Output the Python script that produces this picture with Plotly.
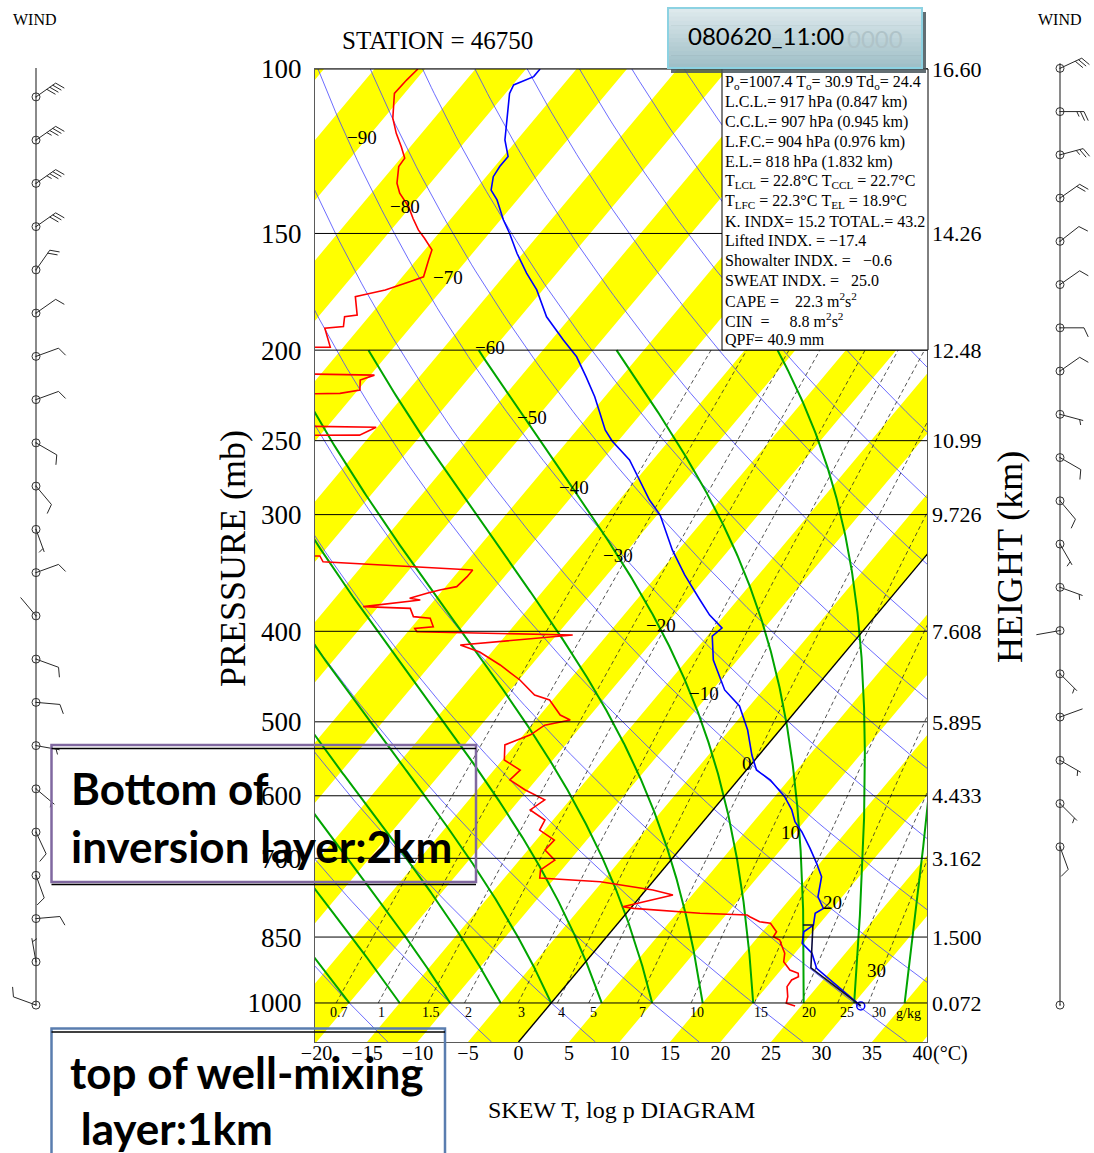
import numpy as np
import plotly.graph_objects as go

# ---------------------------------------------------------------- figure geometry
W, H = 1094, 1153
PL, PR, PT, PB = 315, 927, 69, 1042          # plot-area edges in pixels
XMIN, XMAX = -20.15, 40.45                   # bottom-edge temperature range (deg C)
P_TOP, P_BOT = 100.0, 1101.0                 # pressure range (hPa)
K_SKEW = 77.5                                # skew: deg C shift per decade of pressure
SERIF = "Liberation Serif"
SANS = "Lato"

# ---------------------------------------------------------------- data
pressure_levels = [100, 150, 200, 250, 300, 400, 500, 600, 700, 850, 1000]
height_labels = ["16.60", "14.26", "12.48", "10.99", "9.726", "7.608",
                 "5.895", "4.433", "3.162", "1.500", "0.072"]
temp_ticks = [-20, -15, -10, -5, 0, 5, 10, 15, 20, 25, 30, 35, 40]

isotherm_label_t = [-90, -80, -70, -60, -50, -40, -30, -20, -10, 0, 10, 20, 30]
isotherm_label_p = [118.5, 140.5, 167.0, 198.5, 235.9, 280.6, 332.2,
                    393.9, 466.8, 553.8, 656.6, 781.1, 922.1]

mixing_ratios = [0.7, 1, 1.5, 2, 3, 4, 5, 7, 10, 15, 20, 25, 30]
mixing_labels = ["0.7", "1", "1.5", "2", "3", "4", "5", "7", "10", "15", "20", "25", "30"]
moist_start_t = [-20, -15, -10, -5, 0, 5, 10, 15, 20, 25, 30, 35]
dry_theta_c = [-20, -10, 0, 10, 20, 30, 40, 50, 60, 70, 80, 90, 100,
               110, 120, 130, 140, 150, 160, 170, 180]

# temperature sounding (hPa, deg C)
temp_p = [1007.4, 918.0, 884.7, 863.2, 838.9, 825.2, 801.7, 791.9, 769.6, 732.6,
          708.8, 683.0, 655.6, 639.7, 621.3, 601.4, 577.1, 563.2, 542.7, 510.2,
          480.9, 462.2, 429.4, 404.7, 396.8, 384.3, 370.3, 348.1, 327.3, 300.3,
          289.4, 262.2, 250.2, 243.5, 233.7, 224.3, 213.6, 203.3, 195.1, 184.2,
          172.4, 165.4, 157.5, 149.9, 145.1, 138.1, 134.8, 130.4, 127.2, 124.1,
          119.1, 110.6, 106.2, 104.0, 101.9, 100.0]
temp_c = [30.9, 23.4, 21.7, 19.9, 19.1, 19.5, 18.7, 19.1, 17.6, 16.3,
          14.7, 12.8, 10.6, 9.1, 7.8, 6.0, 3.2, 1.0, -0.7, -3.2,
          -6.0, -8.8, -12.4, -14.5, -14.2, -16.5, -18.7, -22.3, -25.6, -29.7,
          -32.0, -37.3, -40.6, -42.2, -44.1, -46.0, -48.5, -51.1, -53.8, -57.4,
          -60.6, -63.0, -65.6, -68.0, -69.7, -72.0, -73.4, -74.3, -74.5, -74.5,
          -76.2, -78.4, -79.6, -79.9, -78.6, -78.6]

# dew-point sounding (hPa, deg C); -100 marks values far below the chart
dew_p = [1007.4, 1000.7, 984.6, 960.6, 944.9, 937.2, 929.5, 922.0, 903.3, 884.7,
         870.4, 856.2, 849.3, 838.9, 821.7, 818.5, 808.4, 805.1, 801.7, 791.9,
         788.8, 772.6, 766.4, 757.0, 741.6, 734.9, 720.3, 703.1, 685.9, 669.3,
         652.9, 637.0, 621.3, 606.0, 591.2, 577.1, 563.1, 549.4, 529.3, 516.3,
         504.2, 497.7, 491.7, 473.8, 468.0, 451.0, 434.6, 421.0, 413.8, 403.7,
         400.4, 397.1, 395.5, 387.4, 385.8, 378.0, 376.4, 370.3, 368.7, 364.2,
         361.3, 358.3, 349.6, 343.9, 337.0, 332.2, 330.0, 250.0, 247.6, 246.6,
         241.9, 238.6, 224.3, 222.5, 220.7, 215.3, 212.7, 210.0, 200.0, 198.5,
         189.5, 188.7, 184.2, 183.4, 175.3, 174.6, 172.4, 168.9, 166.9, 160.1,
         156.2, 151.8, 148.7, 144.5, 140.4, 135.8, 132.5, 127.2, 124.6, 121.1,
         117.2, 112.9, 106.2, 102.7, 100.0]
dew_c = [24.4, 23.3, 22.9, 22.0, 21.9, 22.3, 22.0, 20.9, 19.6, 19.0,
         18.2, 17.4, 16.5, 16.4, 15.1, 13.9, 12.5, 12.1, 7.3, 0.3,
         -0.9, 2.1, 3.1, 0.7, -5.2, -11.5, -12.1, -11.5, -13.3, -13.2,
         -15.5, -15.8, -18.1, -17.5, -20.3, -22.6, -22.4, -24.8, -26.0, -24.3,
         -23.7, -21.6, -23.0, -25.3, -27.2, -29.9, -33.1, -36.2, -38.7, -28.4,
         -44.1, -44.6, -42.9, -43.9, -45.7, -46.7, -51.5, -46.4, -47.6, -46.3,
         -45.3, -43.9, -43.7, -43.7, -59.2, -60.0, -100, -100, -100, -66.1,
         -65.1, -100, -100, -71.5, -69.8, -70.6, -69.6, -100, -100, -76.3,
         -78.4, -76.7, -77.4, -76.3, -78.0, -77.4, -75.6, -73.8, -72.9, -73.8,
         -74.3, -76.0, -77.3, -78.8, -80.2, -82.2, -83.3, -84.5, -84.6, -85.9,
         -87.5, -89.1, -91.0, -90.9, -90.7]

# lifted parcel (surface -> LCL -> marker)
parcel_p = [1007.4, 917.0, 825.2, 825.2]
parcel_t = [30.9, 22.8, 19.45, 18.46]

# winds: level index (evenly spaced column), direction (deg), speed (kt)
wind_l_lev = [0, 1, 2, 3, 4, 5, 6, 7, 8, 9, 10, 11, 12, 13, 14, 15, 16, 17, 18, 19, 20, 21]
wind_l_dir = [290, 350, 85, 160, 155, 130, 100, 95, 110, 320, 70, 160, 140, 120, 70, 70,
              55, 35, 55, 55, 55, 55]
wind_l_spd = [10, 5, 10, 10, 10, 5, 5, 10, 10, 2, 10, 5, 10, 10, 10, 10, 10, 20, 30, 35, 35, 40]
wind_r_lev = [0, 3.66, 4.66, 5.66, 6.66, 7.66, 8.66, 9.66, 10.66, 11.66, 12.66, 13.66,
              14.66, 15.66, 16.66, 17.66, 18.66, 19.66, 20.66, 21.66]
wind_r_dir = [0, 160, 135, 120, 70, 135, 260, 110, 150, 140, 120, 105, 55, 90, 55, 52,
              55, 75, 90, 65]
wind_r_spd = [0, 10, 5, 5, 2, 5, 2, 5, 5, 10, 10, 5, 10, 10, 10, 10, 20, 25, 25, 30]

info_lines = [
    "P<sub>o</sub>=1007.4 T<sub>o</sub>= 30.9 Td<sub>o</sub>= 24.4",
    "L.C.L.= 917 hPa (0.847 km)",
    "C.C.L.= 907 hPa (0.945 km)",
    "L.F.C.= 904 hPa (0.976 km)",
    "E.L.= 818 hPa (1.832 km)",
    "T<sub>LCL</sub> = 22.8°C T<sub>CCL</sub> = 22.7°C",
    "T<sub>LFC</sub> = 22.3°C\u00a0T<sub>EL</sub>\u00a0= 18.9°C",
    "K. INDX= 15.2 TOTAL.= 43.2",
    "Lifted INDX. = −17.4",
    "Showalter INDX. =\u00a0\u00a0\u00a0−0.6",
    "SWEAT INDX. =\u00a0\u00a0\u00a025.0",
    "CAPE =\u00a0\u00a0\u00a0\u00a022.3 m<sup>2</sup>s<sup>2</sup>",
    "CIN\u00a0\u00a0=\u00a0\u00a0\u00a0\u00a0\u00a08.8 m<sup>2</sup>s<sup>2</sup>",
    "QPF= 40.9 mm",
]


# ---------------------------------------------------------------- helpers
def skew(t, p):
    return np.asarray(t, float) + K_SKEW * np.log10(P_BOT / np.asarray(p, float))


def fx(x):
    return x / W


def fy(y):
    return 1 - y / H


def td_from_w(w, p):
    p = np.asarray(p, float)
    e = w * p / (622.0 + w)
    L = np.log(e / 6.112)
    return 243.5 * L / (17.67 - L)


def _lapse(T, p):
    Tc = T - 273.15
    es = 6.112 * np.exp(17.67 * Tc / (Tc + 243.5))
    rs = 0.622 * es / (p - es)
    Rd, Cp, Lv = 287.04, 1005.7, 2.501e6
    return (Rd * T + Lv * rs) / (p * (Cp + Lv * Lv * rs * 0.622 / (Rd * T * T)))


def moist_adiabat(t0, p0=1000.0, p1=200.0, dp=2.0):
    ps = np.arange(p0, p1 - 1e-6, -dp)
    T = t0 + 273.15
    out = [T]
    for i in range(len(ps) - 1):
        h = ps[i + 1] - ps[i]
        k1 = _lapse(T, ps[i])
        k2 = _lapse(T + 0.5 * h * k1, ps[i] + 0.5 * h)
        T = T + h * k2
        out.append(T)
    return ps, np.array(out) - 273.15


Y3_MIN, Y3_MAX = -3.42, 23.24
PX_PER_LEVEL = H / (Y3_MAX - Y3_MIN)


def barb(cx, lev, bearing, speed, L=24.0, fl=10.0, sp=3.6):
    xs, ys = [], []
    if speed <= 0:
        return xs, ys
    b = np.radians(bearing)
    ux, uy = np.sin(b), np.cos(b)
    f = np.radians(bearing + 65)
    fxv, fyv = np.sin(f), np.cos(f)
    xs += [cx, cx + L * ux, None]
    ys += [lev, lev + L * uy / PX_PER_LEVEL, None]
    n_full = int(speed // 10)
    half = (speed % 10) >= 5
    pos = L
    for _ in range(n_full):
        bx, by = ux * pos, uy * pos
        xs += [cx + bx, cx + bx + fl * fxv, None]
        ys += [lev + by / PX_PER_LEVEL, lev + (by + fl * fyv) / PX_PER_LEVEL, None]
        pos -= sp
    if half:
        if n_full == 0:
            pos -= sp
        bx, by = ux * pos, uy * pos
        xs += [cx + bx, cx + bx + 0.55 * fl * fxv, None]
        ys += [lev + by / PX_PER_LEVEL, lev + (by + 0.55 * fl * fyv) / PX_PER_LEVEL, None]
    return xs, ys


fig = go.Figure()
common = dict(hoverinfo="skip", showlegend=False)

# isotherm bands (yellow)
s_top = K_SKEW * np.log10(P_BOT / P_TOP)
sx, sy = [], []
for t in range(-115, 40, 10):
    sx += [t, t + 5, t + 5 + s_top, t + s_top, t, None]
    sy += [P_BOT, P_BOT, P_TOP, P_TOP, P_BOT, None]
fig.add_trace(go.Scatter(x=sx, y=sy, mode="lines", fill="toself",
                         fillcolor="rgb(255,255,0)", line=dict(width=0), **common))

# dry adiabats
pp = np.logspace(np.log10(P_BOT), np.log10(P_TOP), 160)
dx, dy = [], []
for th in dry_theta_c:
    T = (th + 273.15) * (pp / 1000.0) ** 0.2857 - 273.15
    dx += list(skew(T, pp)) + [None]
    dy += list(pp) + [None]
fig.add_trace(go.Scatter(x=dx, y=dy, mode="lines",
                         line=dict(color="rgb(70,70,255)", width=0.8), **common))

# mixing-ratio lines
pm = np.linspace(1000, 200, 80)
mx, my = [], []
for w in mixing_ratios:
    mx += list(skew(td_from_w(w, pm), pm)) + [None]
    my += list(pm) + [None]
fig.add_trace(go.Scatter(x=mx, y=my, mode="lines",
                         line=dict(color="rgb(40,40,40)", width=0.8, dash="4px,3px"), **common))

# moist adiabats
gx, gy = [], []
for t0 in moist_start_t:
    ps, ts = moist_adiabat(t0)
    gx += list(skew(ts, ps)) + [None]
    gy += list(ps) + [None]
fig.add_trace(go.Scatter(x=gx, y=gy, mode="lines",
                         line=dict(color="rgb(0,165,0)", width=2), **common))

# 0 deg C isotherm
fig.add_trace(go.Scatter(x=list(skew([0, 0], [P_BOT, P_TOP])), y=[P_BOT, P_TOP], mode="lines",
                         line=dict(color="black", width=1.4), **common))

# pressure lines (on the height axis, which shares the pressure scale)
hx, hy = [], []
for p in pressure_levels:
    hx += [XMIN, XMAX, None]
    hy += [p, p, None]
fig.add_trace(go.Scatter(x=hx, y=hy, mode="lines", yaxis="y2",
                         line=dict(color="black", width=1), **common))

# soundings
fig.add_trace(go.Scatter(x=list(skew(dew_c, dew_p)), y=dew_p, mode="lines",
                         line=dict(color="rgb(255,0,0)", width=1.6), **common))
fig.add_trace(go.Scatter(x=list(skew(temp_c, temp_p)), y=temp_p, mode="lines",
                         line=dict(color="rgb(0,0,255)", width=1.6), **common))
fig.add_trace(go.Scatter(x=list(skew(parcel_t, parcel_p)), y=parcel_p, mode="lines",
                         line=dict(color="rgb(10,10,60)", width=1.6), **common))
fig.add_trace(go.Scatter(x=list(skew(temp_c[:1], temp_p[:1])), y=temp_p[:1], mode="markers",
                         marker=dict(symbol="circle-open", size=8, color="blue",
                                     line=dict(width=1.5)), **common))

# wind columns
for cx, levs, dirs, spds, top in [(36, wind_l_lev, wind_l_dir, wind_l_spd, 21.67),
                                  (1060, wind_r_lev, wind_r_dir, wind_r_spd, 21.78)]:
    fig.add_trace(go.Scatter(x=[cx, cx], y=[0, top], mode="lines", xaxis="x3", yaxis="y3",
                             line=dict(color="rgb(60,60,60)", width=1.2), **common))
    bx, by = [], []
    for lv, d, s in zip(levs, dirs, spds):
        xs, ys = barb(cx, lv, d, s)
        bx += xs
        by += ys
    fig.add_trace(go.Scatter(x=bx, y=by, mode="lines", xaxis="x3", yaxis="y3",
                             line=dict(color="rgb(40,40,40)", width=1), **common))
    fig.add_trace(go.Scatter(x=[cx] * len(levs), y=levs, mode="markers", xaxis="x3", yaxis="y3",
                             marker=dict(symbol="circle-open-dot", size=8, color="rgb(50,50,50)",
                                         line=dict(width=1)), **common))

# ---------------------------------------------------------------- annotations
ann = []


def txt(x, y, text, size, family=SERIF, xanchor="center", color="black", weight=None, **kw):
    font = dict(family=family, size=size, color=color)
    if weight:
        font["weight"] = weight
    ann.append(dict(x=fx(x), y=fy(y), xref="paper", yref="paper", text=text, showarrow=False,
                    xanchor=xanchor, yanchor="middle", font=font, **kw))


for t, p in zip(isotherm_label_t, isotherm_label_p):
    ann.append(dict(x=float(skew(t, p)) - 0.5, y=float(np.log10(p)), xref="x", yref="y",
                    text=str(t).replace("-", "−"), showarrow=False, xanchor="center",
                    yanchor="middle", font=dict(family=SERIF, size=19, color="black")))

for w, lab in zip(mixing_ratios, mixing_labels):
    ann.append(dict(x=float(skew(td_from_w(w, 1000.0), 1000.0)) + 0.3 + 0.025 * w,
                    y=float(np.log10(1025.0)),
                    xref="x", yref="y", text=lab, showarrow=False, xanchor="center",
                    yanchor="middle", font=dict(family=SERIF, size=14, color="black")))
txt(908, 1013, "g/kg", 14)

txt(437, 40, "STATION = 46750", 25)
txt(35, 20, "WIND", 16)
txt(1060, 20, "WIND", 16)
txt(233, 559, "PRESSURE (mb)", 36, textangle=-90)
txt(1010, 557, "HEIGHT (km)", 36, textangle=-90)
txt(621, 1110, "SKEW T, log p DIAGRAM", 24)
txt(950, 1053, "(°C)", 20)

for i, line in enumerate(info_lines):
    txt(723, 82.5 + 19.8 * i, line, 16, xanchor="left")

txt(845, 38, "0000", 24, family=SANS, xanchor="left", color="rgb(175,195,200)")
txt(686, 36, "080620_11:00", 24, family=SANS, xanchor="left")

txt(69, 788, "Bottom of", 44, family=SANS, xanchor="left", weight="bold")
txt(69, 846, "inversion layer:2km", 44, family=SANS, xanchor="left", weight="bold")
txt(68, 1072, "top of well-mixing", 44, family=SANS, xanchor="left", weight="bold")
txt(68, 1128, "\u00a0layer:1km", 44, family=SANS, xanchor="left", weight="bold")

# ---------------------------------------------------------------- shapes
shapes = []


def rect(x0, y0, x1, y1, fill=None, line_color=None, lw=1):
    d = dict(type="rect", xref="paper", yref="paper", x0=fx(x0), x1=fx(x1), y0=fy(y1), y1=fy(y0),
             layer="above", line=dict(width=lw if line_color else 0, color=line_color or "rgba(0,0,0,0)"))
    if fill:
        d["fillcolor"] = fill
    shapes.append(d)


def hline(x0, x1, y, color, lw):
    shapes.append(dict(type="line", xref="paper", yref="paper", x0=fx(x0), x1=fx(x1),
                       y0=fy(y), y1=fy(y), layer="above", line=dict(color=color, width=lw)))


rect(722, 69, 928, 350, fill="white", line_color="black", lw=1)

# title box with shadow and vertical gradient
rect(671, 12, 926, 73, fill="rgba(70,85,90,0.85)")
n_band = 14
c_top, c_bot = np.array([224, 235, 238]), np.array([158, 190, 198])
y_a, y_b = 8, 68
for i in range(n_band):
    c = c_top + (c_bot - c_top) * (i + 0.5) / n_band
    ya = y_a + (y_b - y_a) * i / n_band
    yb = y_a + (y_b - y_a) * (i + 1) / n_band + 0.6
    rect(668, ya, 922, yb, fill="rgb(%d,%d,%d)" % tuple(c.astype(int)))
rect(668, 8, 922, 68, line_color="rgb(140,210,226)", lw=2)

# text boxes
rect(51.5, 745, 476, 882, line_color="rgb(128,104,160)", lw=2.5)
hline(51.5, 476, 748.5, "black", 1.5)
hline(51.5, 476, 884.5, "black", 1.5)
rect(51.5, 1028.5, 445, 1160, line_color="rgb(90,125,175)", lw=2.5)
hline(51.5, 445, 1032, "black", 1.5)

# ---------------------------------------------------------------- layout
y_dom = [fy(PB), fy(PT)]
fig.update_layout(
    template="none",
    width=W, height=H, margin=dict(l=0, r=0, t=0, b=0, pad=0, autoexpand=False),
    autosize=False,
    paper_bgcolor="white", plot_bgcolor="rgba(0,0,0,0)", hovermode=False, showlegend=False,
    xaxis=dict(domain=[fx(PL), fx(PR)], range=[XMIN, XMAX], tickvals=temp_ticks,
               showgrid=False, zeroline=False, showline=True, mirror=True, automargin=False,
               linecolor="rgb(90,90,90)", linewidth=1, ticks="", ticklabelstandoff=-7,
               tickfont=dict(family=SERIF, size=20, color="black"), anchor="y", fixedrange=True),
    yaxis=dict(domain=y_dom, type="log", range=[np.log10(P_BOT), np.log10(P_TOP)],
               tickvals=pressure_levels, ticktext=[str(p) for p in pressure_levels],
               showgrid=False, zeroline=False, showline=True, mirror=True, automargin=False,
               linecolor="rgb(90,90,90)", linewidth=1, ticks="", ticklabelstandoff=7,
               tickfont=dict(family=SERIF, size=27, color="black"), anchor="x", fixedrange=True),
    yaxis2=dict(overlaying="y", side="right", type="log",
                range=[np.log10(P_BOT), np.log10(P_TOP)], tickvals=pressure_levels,
                ticktext=height_labels, showgrid=False, zeroline=False, showline=False,
                ticks="", ticklabelstandoff=4, anchor="x", automargin=False,
                tickfont=dict(family=SERIF, size=22, color="black"), fixedrange=True),
    xaxis3=dict(domain=[0, 1], range=[0, W], visible=False, anchor="y3", fixedrange=True,
                automargin=False),
    yaxis3=dict(domain=[0, 1], range=[Y3_MIN, Y3_MAX], visible=False, anchor="x3",
                fixedrange=True, automargin=False),
    annotations=ann, shapes=shapes,
)

fig.write_html("out.html")
